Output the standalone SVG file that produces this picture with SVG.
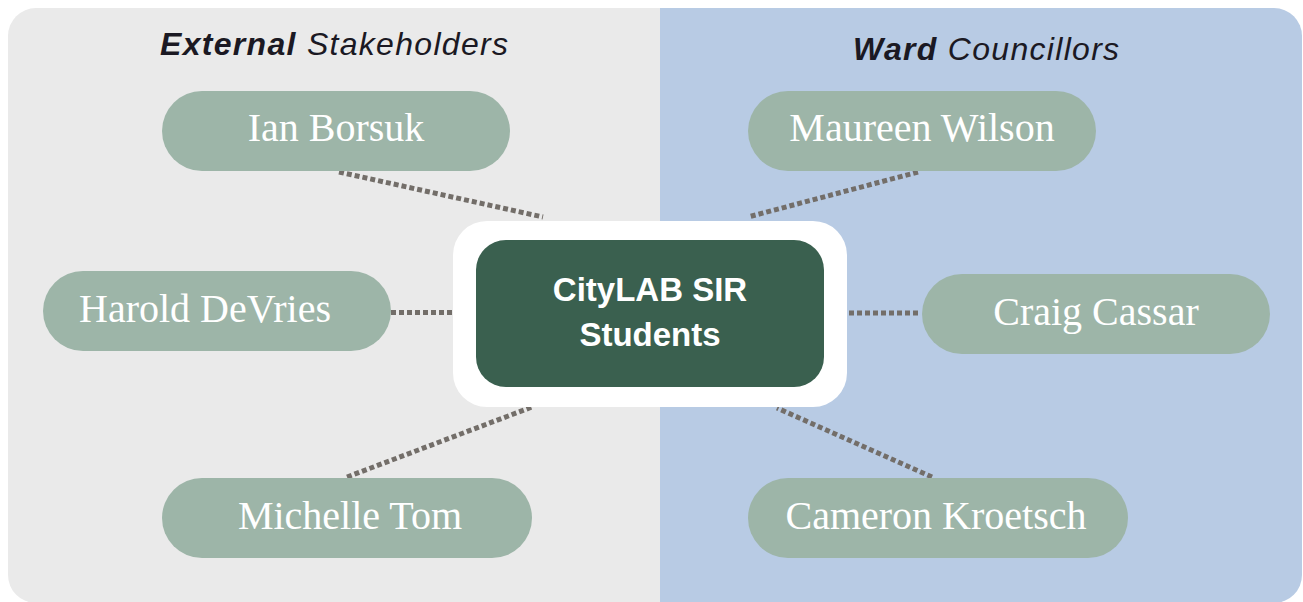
<svg xmlns="http://www.w3.org/2000/svg" width="1303" height="602" viewBox="0 0 1303 602">
  <defs>
    <style>
      .title { font-family: "Liberation Sans", Arial, sans-serif; font-size: 32px; font-style: italic; fill: #1b1923; letter-spacing: 1.3px; }
      .title .strong { font-weight: bold; }
      .pill { fill: #9db5a8; }
      .pill-text { font-family: "Liberation Serif", "Times New Roman", serif; font-size: 40px; fill: #ffffff; text-anchor: middle; }
      .link { stroke: #736e69; stroke-width: 5; stroke-dasharray: 5 3; fill: none; }
      .core-text { font-family: "Liberation Sans", Arial, sans-serif; font-size: 33px; font-weight: bold; fill: #ffffff; text-anchor: middle; }
    </style>
  </defs>

  <!-- background panels -->
  <g id="panels">
    <path d="M8 36 A28 28 0 0 1 36 8 H661 V603 H36 A28 28 0 0 1 8 575 Z" fill="#eaeaea"/>
    <path d="M660 8 H1274 A28 28 0 0 1 1302 36 V575 A28 28 0 0 1 1274 603 H660 Z" fill="#b8cbe4"/>
    <text class="title" x="160" y="55"><tspan class="strong">External</tspan> Stakeholders</text>
    <text class="title" x="853" y="60"><tspan class="strong">Ward</tspan> Councillors</text>
  </g>

  <!-- dotted links to the central node -->
  <g id="connectors">
    <line class="link" x1="339" y1="172" x2="543" y2="217"/>
    <line class="link" x1="918" y1="172" x2="748" y2="217"/>
    <line class="link" x1="391" y1="312.5" x2="453" y2="312.5"/>
    <line class="link" x1="849" y1="313" x2="920" y2="313"/>
    <line class="link" x1="347" y1="477" x2="532" y2="407"/>
    <line class="link" x1="932" y1="477" x2="777" y2="408"/>
  </g>

  <g id="node-ian-borsuk">
    <rect class="pill" x="162" y="91" width="348" height="80" rx="40"/>
    <text class="pill-text" x="336" y="141">Ian Borsuk</text>
  </g>
  <g id="node-maureen-wilson">
    <rect class="pill" x="748" y="91" width="348" height="80" rx="40"/>
    <text class="pill-text" x="922" y="141">Maureen Wilson</text>
  </g>
  <g id="node-harold-devries">
    <rect class="pill" x="43" y="271" width="348" height="80" rx="40"/>
    <text class="pill-text" x="205" y="322">Harold DeVries</text>
  </g>
  <g id="node-craig-cassar">
    <rect class="pill" x="922" y="274" width="348" height="80" rx="40"/>
    <text class="pill-text" x="1096" y="325">Craig Cassar</text>
  </g>
  <g id="node-michelle-tom">
    <rect class="pill" x="162" y="478" width="370" height="80" rx="40"/>
    <text class="pill-text" x="350" y="529">Michelle Tom</text>
  </g>
  <g id="node-cameron-kroetsch">
    <rect class="pill" x="748" y="478" width="380" height="80" rx="40"/>
    <text class="pill-text" x="936" y="529">Cameron Kroetsch</text>
  </g>

  <g id="node-citylab">
    <rect x="453" y="221" width="394" height="186" rx="34" fill="#ffffff"/>
    <rect x="476" y="240" width="348" height="147" rx="30" fill="#3a604f"/>
    <text class="core-text" x="650" y="301">CityLAB SIR</text>
    <text class="core-text" x="650" y="346">Students</text>
  </g>
</svg>
